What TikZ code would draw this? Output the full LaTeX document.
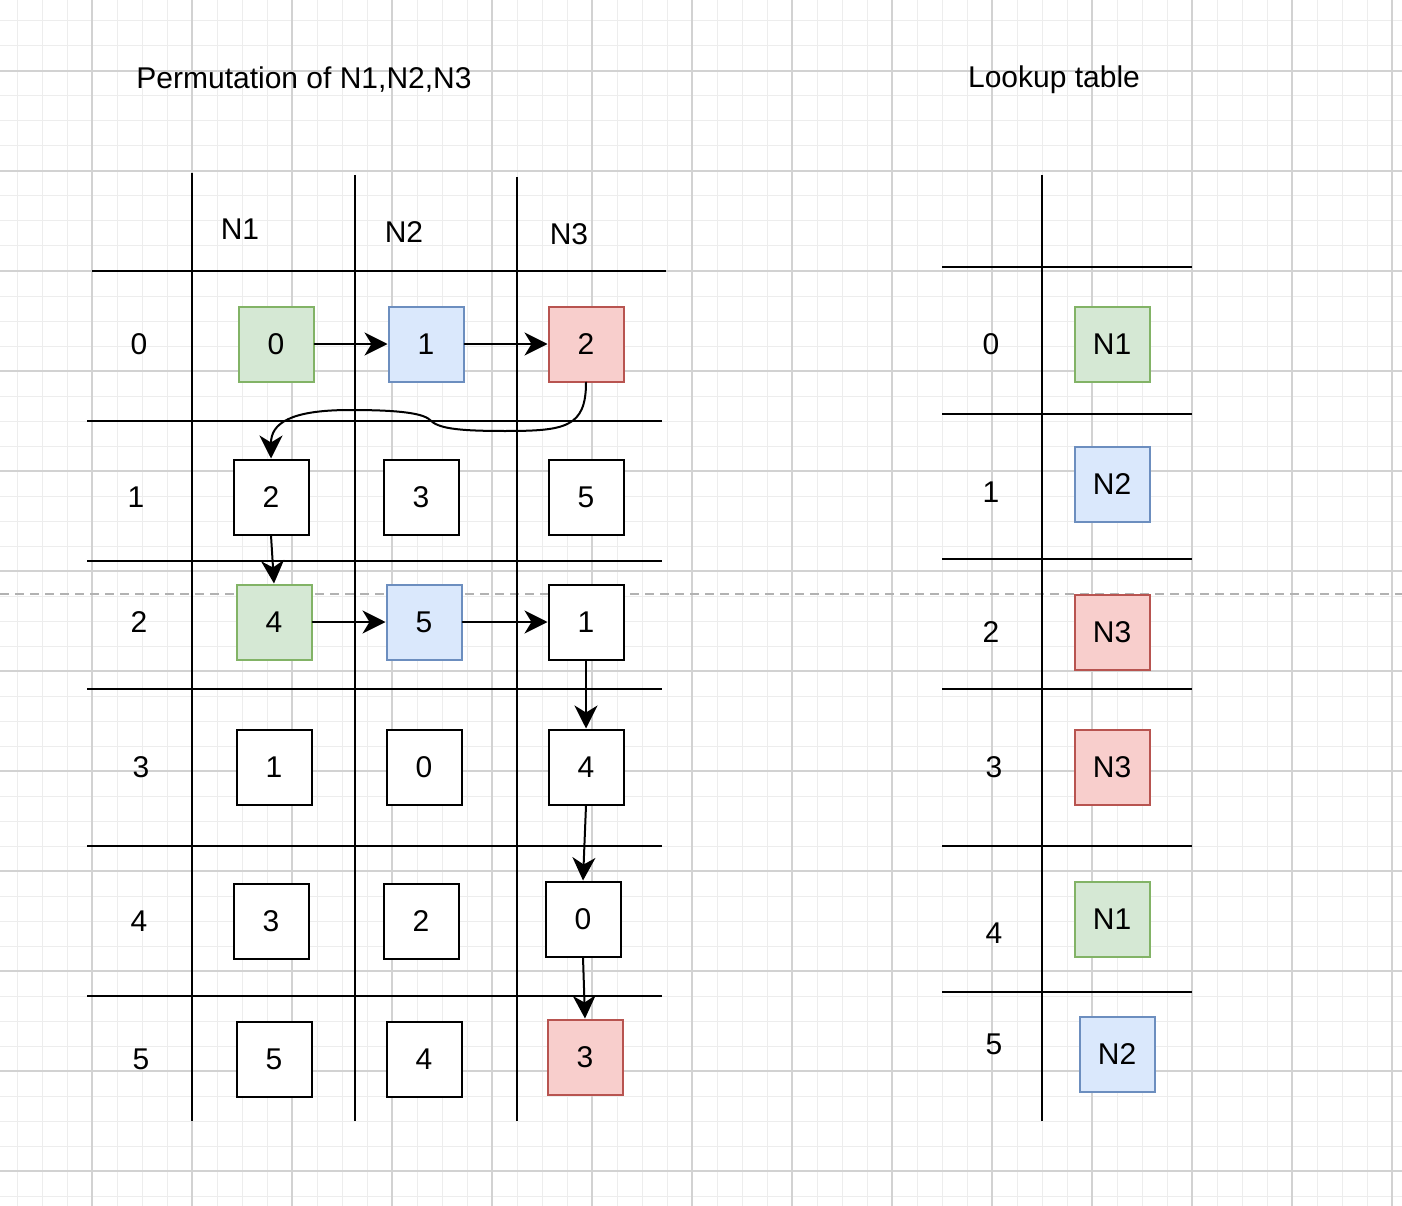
\documentclass[tikz,border=0pt]{standalone}
\usepackage{fontspec}
\setmainfont{Liberation Sans}
\usetikzlibrary{arrows.meta}
\definecolor{gfill}{HTML}{d5e8d4}
\definecolor{gline}{HTML}{82b366}
\definecolor{bfill}{HTML}{dae8fc}
\definecolor{bline}{HTML}{6c8ebf}
\definecolor{rfill}{HTML}{f8cecc}
\definecolor{rline}{HTML}{b85450}
\definecolor{minorgrid}{HTML}{ededed}
\definecolor{majorgrid}{HTML}{d2d2d2}

\begin{document}
\begin{tikzpicture}[x=1pt,y=-1pt,every path/.style={line cap=round}]

        \tikzset{cell/.style = {shape=rectangle,draw,line width=2pt,minimum size=75pt,inner sep=0pt,fill=white,font=\fontsize{30}{36}\selectfont}}
        \tikzset{label/.style = {font=\fontsize{30}{36}\selectfont}}
        \tikzset{green/.style = {fill=gfill,draw=gline}}
        \tikzset{blue/.style = {fill=bfill,draw=bline}}
        \tikzset{red/.style = {fill=rfill,draw=rline}}
        \tikzset{rule/.style = {line width=2.5pt,line cap=butt}}
        \tikzset{arr/.style = {line width=2pt,-{Stealth[length=23pt,width=23pt,inset=7pt]}}}

        \useasboundingbox (0,0) rectangle (1402,1206);
        \fill[white] (0,0) rectangle (1402,1206);

        % background grid
        \foreach \x in {17,42,...,1402} \draw[minorgrid,line width=1pt] (\x,0) -- (\x,1206);
        \foreach \y in {21,46,...,1206} \draw[minorgrid,line width=1pt] (0,\y) -- (1402,\y);
        \foreach \x in {92,192,...,1402} \draw[majorgrid,line width=1.2pt] (\x,0) -- (\x,1206);
        \foreach \y in {71,171,...,1206} \draw[majorgrid,line width=1.2pt] (0,\y) -- (1402,\y);
        \draw[majorgrid!85!black,line width=1.5pt,dash pattern=on 9pt off 6pt,line cap=butt] (0,594) -- (1402,594);

        % titles
        \node[label] (title1) at (304,80) {Permutation of N1,N2,N3};
        \node[label] (title2) at (1054,80) {Lookup table};

        % permutation table
        \draw[rule] (192,173) -- (192,1121);
        \draw[rule] (355,175) -- (355,1121);
        \draw[rule] (517,177) -- (517,1121);
        \draw[rule] (92,271) -- (666,271);
        \draw[rule] (87,421) -- (662,421);
        \draw[rule] (87,561) -- (662,561);
        \draw[rule] (87,689) -- (662,689);
        \draw[rule] (87,846) -- (662,846);
        \draw[rule] (87,996) -- (662,996);

        \node[label] (h1) at (240,229) {N1};
        \node[label] (h2) at (404,232) {N2};
        \node[label] (h3) at (569,234) {N3};

        \node[label] (k0) at (139,344) {0};
        \node[label] (k1) at (136,497) {1};
        \node[label] (k2) at (139,622) {2};
        \node[label] (k3) at (141,767) {3};
        \node[label] (k4) at (139,921) {4};
        \node[label] (k5) at (141,1059) {5};

        \node[cell, green] (r0n1) at (276,344) {0};
        \node[cell, blue] (r0n2) at (426,344) {1};
        \node[cell, red] (r0n3) at (586,344) {2};
        \node[cell] (r1n1) at (271,497) {2};
        \node[cell] (r1n2) at (421,497) {3};
        \node[cell] (r1n3) at (586,497) {5};
        \node[cell, green] (r2n1) at (274,622) {4};
        \node[cell, blue] (r2n2) at (424,622) {5};
        \node[cell] (r2n3) at (586,622) {1};
        \node[cell] (r3n1) at (274,767) {1};
        \node[cell] (r3n2) at (424,767) {0};
        \node[cell] (r3n3) at (586,767) {4};
        \node[cell] (r4n1) at (271,921) {3};
        \node[cell] (r4n2) at (421,921) {2};
        \node[cell] (r4n3) at (583,919) {0};
        \node[cell] (r5n1) at (274,1059) {5};
        \node[cell] (r5n2) at (424,1059) {4};
        \node[cell, red] (r5n3) at (585,1057) {3};

        \draw[arr] (r0n1) -- (r0n2);
        \draw[arr] (r0n2) -- (r0n3);
        \draw[arr] (r0n3.south) .. controls ++(0,45) and ++(60,0) .. (505,431)
              .. controls ++(-50,0) and ++(8,8) .. (430,420)
              .. controls ++(-8,-8) and ++(40,0) .. (350,410)
              .. controls ++(-60,0) and ++(0,-35) .. (r1n1.north);
        \draw[arr] (r1n1.south) -- (r2n1.north);
        \draw[arr] (r2n1) -- (r2n2);
        \draw[arr] (r2n2) -- (r2n3);
        \draw[arr] (r2n3.south) -- (r3n3.north);
        \draw[arr] (r3n3.south) -- (r4n3.north);
        \draw[arr] (r4n3.south) -- (r5n3.north);

        % lookup table
        \draw[rule] (1042,175) -- (1042,1121);
        \draw[rule] (942,267) -- (1192,267);
        \draw[rule] (942,414) -- (1192,414);
        \draw[rule] (942,559) -- (1192,559);
        \draw[rule] (942,689) -- (1192,689);
        \draw[rule] (942,846) -- (1192,846);
        \draw[rule] (942,992) -- (1192,992);

        \node[label] (l0) at (991,344) {0};
        \node[label] (l1) at (991,492) {1};
        \node[label] (l2) at (991,632) {2};
        \node[label] (l3) at (994,767) {3};
        \node[label] (l4) at (994,933) {4};
        \node[label] (l5) at (994,1044) {5};

        \node[cell, green] (t0) at (1112,344) {N1};
        \node[cell, blue] (t1) at (1112,484) {N2};
        \node[cell, red] (t2) at (1112,632) {N3};
        \node[cell, red] (t3) at (1112,767) {N3};
        \node[cell, green] (t4) at (1112,919) {N1};
        \node[cell, blue] (t5) at (1117,1054) {N2};
\end{tikzpicture}
\end{document}
